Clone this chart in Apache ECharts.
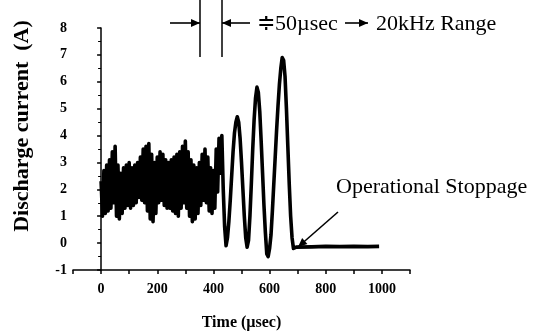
<!DOCTYPE html>
<html>
<head>
<meta charset="utf-8">
<script src="https://cdn.jsdelivr.net/npm/echarts@6/dist/echarts.min.js"></script>
<style>html,body{margin:0;padding:0;background:#fff}#c{width:546px;height:336px}</style>
</head>
<body>
<div id="c"></div>
<script>
const time = [
  0,5,10,15,20,25,30,35,40,45,50,55,60,65,70,75,80,85,90,95,
  100,105,110,115,120,125,130,135,140,145,150,155,160,165,170,175,180,185,190,195,
  200,205,210,215,220,225,230,235,240,245,250,255,260,265,270,275,280,285,290,295,
  300,305,310,315,320,325,330,335,340,345,350,355,360,365,370,375,380,385,390,395,
  400,405,410,415,420,425,430,435,440,445,450,455,460,465,470,475,480,485,490,495,
  500,505,510,515,520,525,530,535,540,545,550,555,560,565,570,575,580,585,590,595,
  600,605,610,615,620,625,630,635,640,645,650,655,660,665,670,675,680,685,690,695,
  700,750,800,850,900,950,990
];
const current = [
  2.3,1.0,2.7,1.1,2.9,1.2,3.1,1.3,3.4,1.5,
  3.6,1.0,2.9,0.9,2.6,1.1,2.8,1.3,2.9,1.4,
  3.0,1.3,2.8,1.4,2.9,1.5,3.0,1.7,3.2,1.6,
  3.5,1.5,3.6,1.2,3.7,0.9,3.3,0.8,3.0,1.1,
  3.2,1.5,3.4,1.6,3.3,1.4,3.1,1.3,3.0,1.3,
  3.1,1.2,3.2,1.1,3.3,1.0,3.4,1.3,3.6,1.5,
  3.8,1.3,3.4,1.0,3.1,0.8,2.9,0.9,2.8,1.1,
  3.0,1.4,3.3,1.6,3.5,1.5,3.2,1.2,2.8,1.1,
  2.7,1.3,3.5,1.9,3.9,2.6,4.0,2.0,0.6,-0.1,
  0.2,0.8,1.6,2.5,3.4,4.1,4.5,4.7,4.5,3.9,
  3.0,2.0,1.0,0.2,-0.15,0.1,1.0,2.2,3.5,4.6,
  5.4,5.8,5.6,4.9,3.8,2.6,1.4,0.4,-0.4,-0.5,
  -0.2,0.3,1.2,2.2,3.2,4.2,5.1,5.9,6.5,6.9,
  6.8,6.2,5.0,3.6,2.2,1.0,0.2,-0.2,-0.2,-0.15,
  -0.12,-0.14,-0.12,-0.13,-0.12,-0.13,-0.12
];
const xTickLabels = [0, 200, 400, 600, 800, 1000];
const yTickLabels = [-1, 0, 1, 2, 3, 4, 5, 6, 7, 8];

const serif = '"Liberation Serif", "Times New Roman", serif';
const chart = echarts.init(document.getElementById('c'), null, {renderer: 'canvas'});
const data = time.map((t, i) => [t, current[i]]);

function arrowHead(tip, from, len, half) {
  const dx = tip[0] - from[0], dy = tip[1] - from[1];
  const d = Math.sqrt(dx * dx + dy * dy);
  const ux = dx / d, uy = dy / d;
  const bx = tip[0] - ux * len, by = tip[1] - uy * len;
  return [[tip[0], tip[1]], [bx - uy * half, by + ux * half], [bx + uy * half, by - ux * half]];
}
function arrow(from, tip) {
  return [
    {type: 'line', shape: {x1: from[0], y1: from[1], x2: tip[0], y2: tip[1]}, style: {stroke: '#000', lineWidth: 1.6}},
    {type: 'polygon', shape: {points: arrowHead(tip, from, 9, 4)}, style: {fill: '#000'}}
  ];
}

chart.setOption({
  animation: false,
  backgroundColor: '#fff',
  grid: {left: 73, right: 136, top: 28, bottom: 65, containLabel: false},
  xAxis: {
    type: 'value', min: -100, max: 1100, interval: 100,
    name: 'Time (\u00b5sec)', nameLocation: 'middle', nameGap: 45,
    nameTextStyle: {fontFamily: serif, fontWeight: 'bold', fontSize: 16, color: '#000'},
    axisLine: {show: true, onZero: false, lineStyle: {color: '#000', width: 1.5}},
    axisTick: {show: true, length: 4, lineStyle: {color: '#000', width: 1.5}},
    axisLabel: {
      margin: 12, color: '#000', fontFamily: serif, fontWeight: 'bold', fontSize: 14,
      formatter: v => xTickLabels.indexOf(v) >= 0 ? String(v) : ''
    },
    splitLine: {show: false}
  },
  yAxis: {
    type: 'value', min: -1, max: 8, interval: 1,
    axisLine: {show: true, lineStyle: {color: '#000', width: 1.5}},
    axisTick: {show: true, length: 4, lineStyle: {color: '#000', width: 1.5}},
    minorTick: {show: true, splitNumber: 2, length: 3, lineStyle: {color: '#000', width: 1}},
    axisLabel: {
      margin: 6, color: '#000', fontFamily: serif, fontWeight: 'bold', fontSize: 14,
      formatter: v => yTickLabels.indexOf(v) >= 0 ? String(v) : ''
    },
    splitLine: {show: false}
  },
  series: [{
    type: 'line', data: data, showSymbol: false, symbol: 'none',
    lineStyle: {color: '#000', width: 3.6, join: 'round'}, z: 3
  }],
  graphic: [
    {type: 'text', x: 22, y: 126, rotation: Math.PI / 2,
     style: {text: 'Discharge current  (A)', font: 'bold 22px ' + serif, fill: '#000', textAlign: 'center', textVerticalAlign: 'middle'}},
    {type: 'line', shape: {x1: 200, y1: 0, x2: 200, y2: 57}, style: {stroke: '#000', lineWidth: 1.5}},
    {type: 'line', shape: {x1: 222, y1: 0, x2: 222, y2: 57}, style: {stroke: '#000', lineWidth: 1.5}},
    ...arrow([170, 23], [200, 23]),
    ...arrow([250, 23], [222, 23]),
    {type: 'text', x: 257, y: 24,
     style: {text: '\u225150\u00b5sec', font: '22px ' + serif, fill: '#000', textAlign: 'left', textVerticalAlign: 'middle'}},
    ...arrow([345, 23], [368, 23]),
    {type: 'text', x: 376, y: 24,
     style: {text: '20kHz Range', font: '22px ' + serif, fill: '#000', textAlign: 'left', textVerticalAlign: 'middle'}},
    {type: 'text', x: 336, y: 187,
     style: {text: 'Operational Stoppage', font: '22px ' + serif, fill: '#000', textAlign: 'left', textVerticalAlign: 'middle'}},
    ...arrow([338, 212], [298, 247])
  ]
});
</script>
</body>
</html>
